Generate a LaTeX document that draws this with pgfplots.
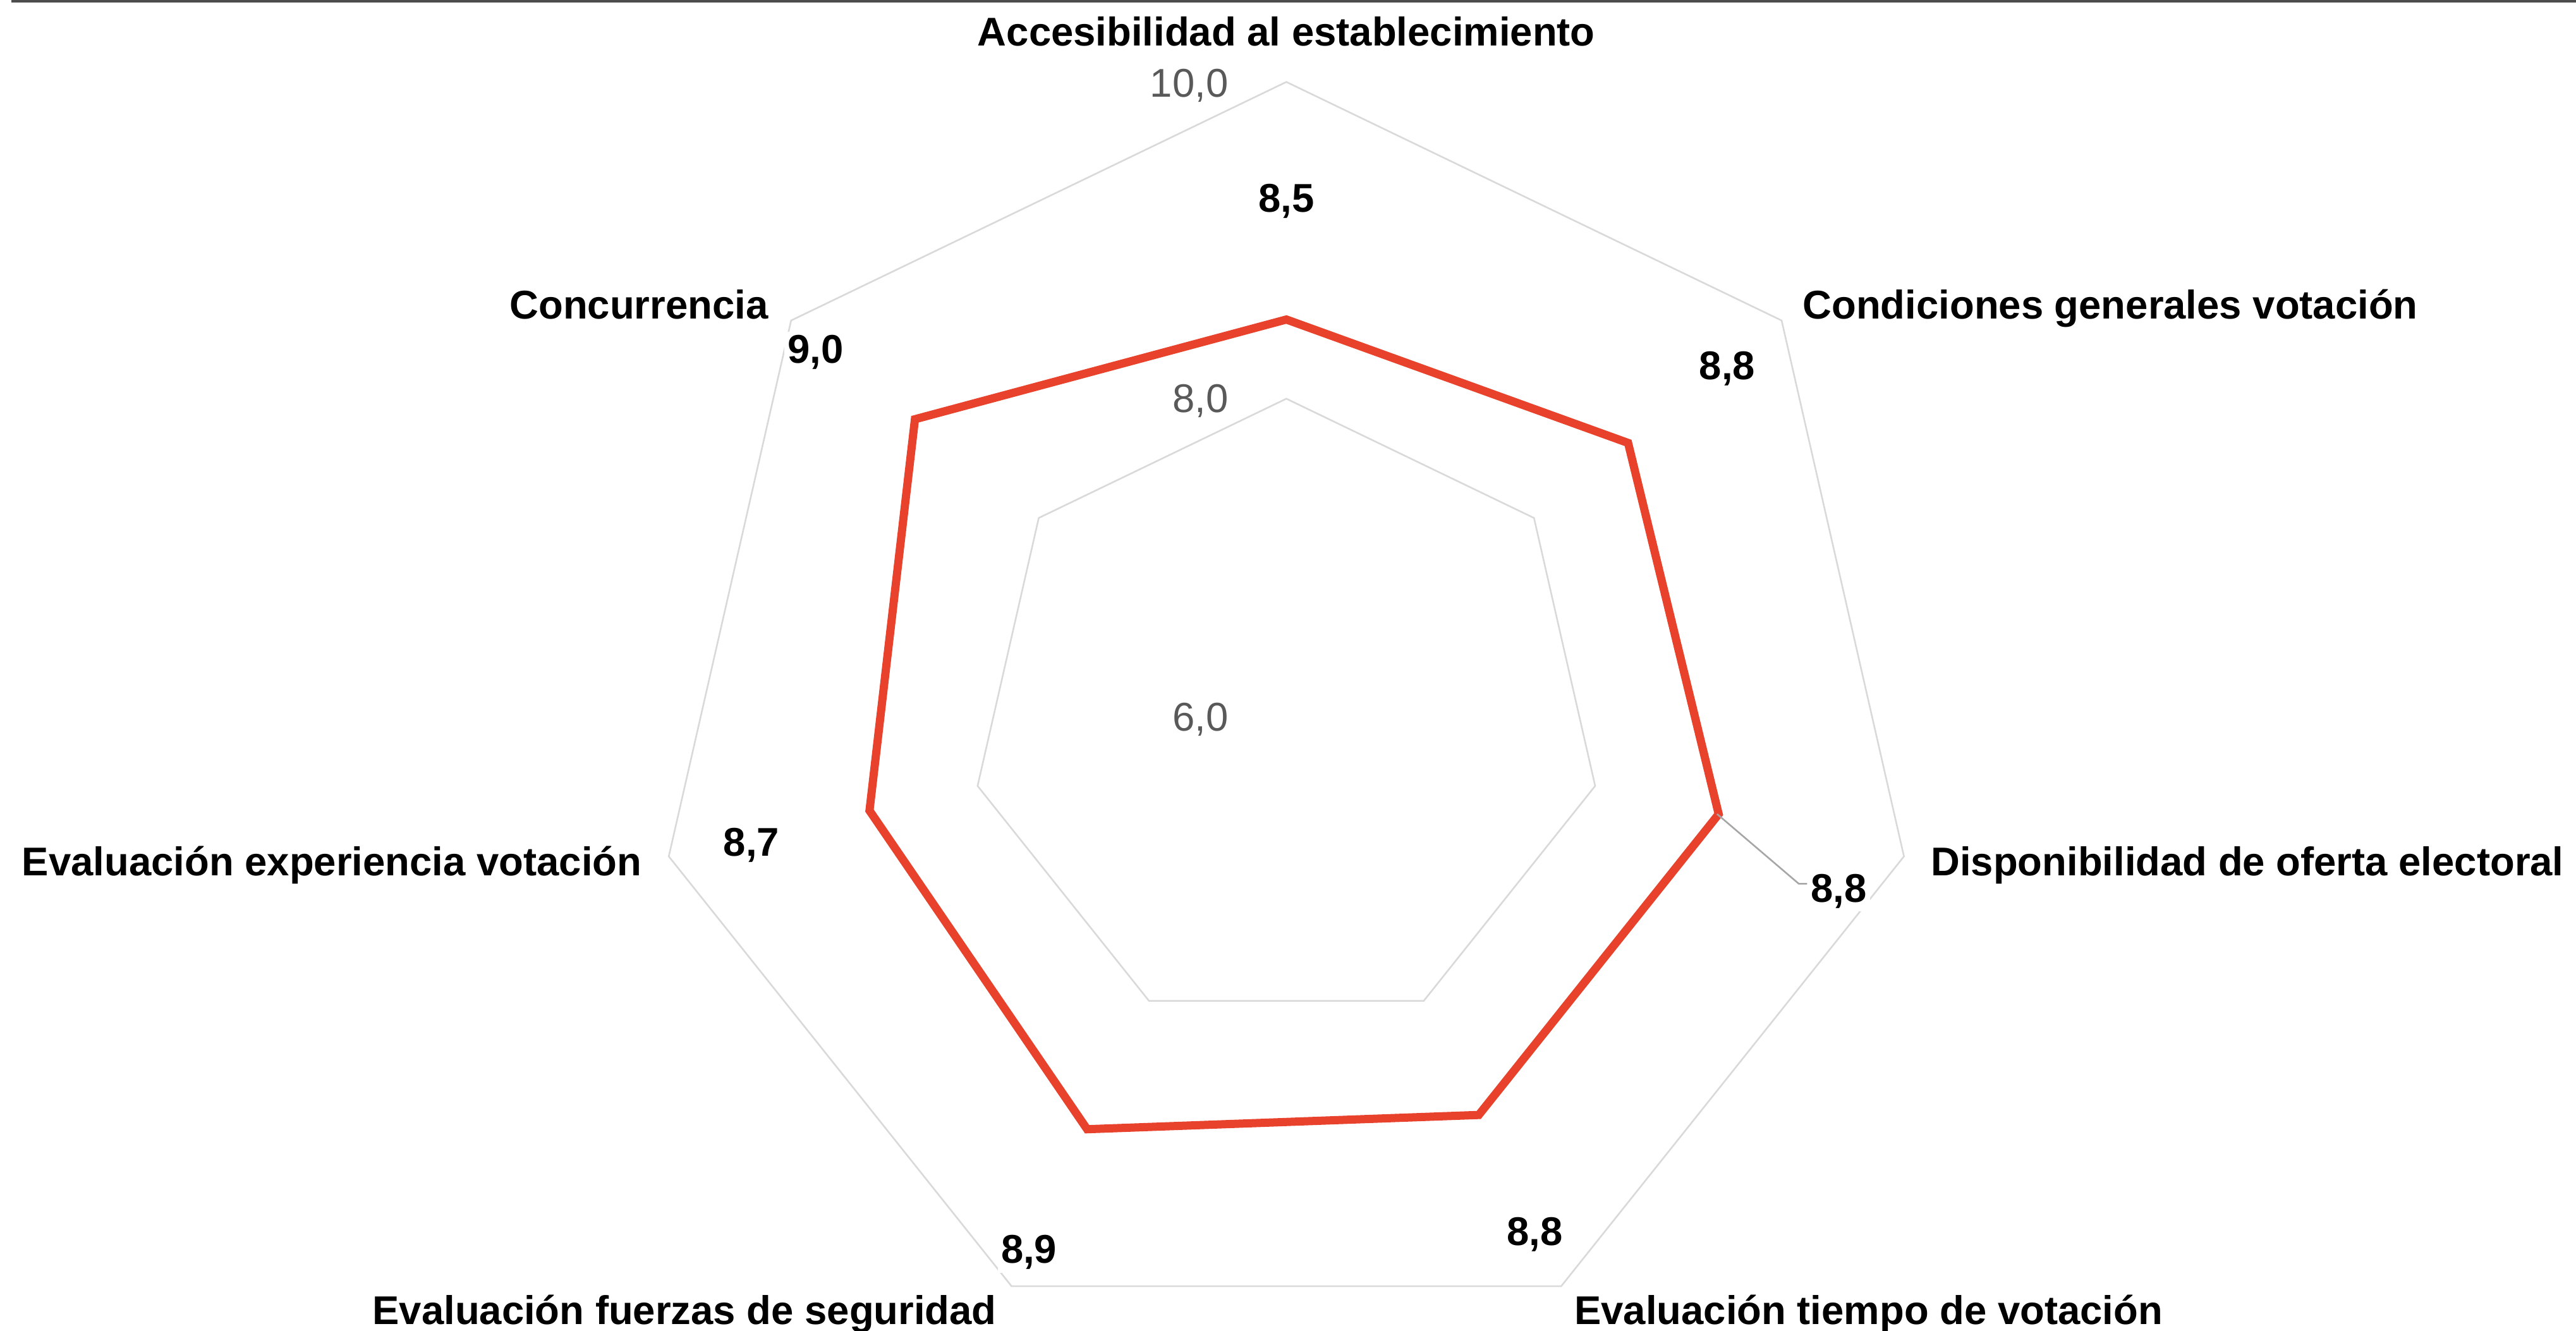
\documentclass[border=0pt]{standalone}
\usepackage{fontspec}
\setmainfont{Liberation Sans}
\usepackage{pgfplots}
\usepackage{pgfplotstable}
\pgfplotsset{compat=1.18}
\definecolor{redline}{HTML}{E8412C}
\definecolor{ringgray}{HTML}{D9D9D9}
\definecolor{valgray}{HTML}{595959}
\definecolor{leadgray}{HTML}{A6A6A6}
\definecolor{topgray}{HTML}{4D4D4D}
% angle (deg) and score of each of the 7 radar axes, clockwise from the top
\pgfplotstableread{
a v
90 8.5
38.5714 8.76
-12.8571 8.8
-64.2857 8.8
-115.7143 8.9
-167.1429 8.7
141.4286 9.0
}\scores
\begin{document}
\begin{tikzpicture}
\begin{axis}[hide axis, x=48.2bp, y=48.2bp,
  xmin=-8.1224, xmax=8.1432, ymin=-3.8849, ymax=4.5176, clip=false]
\addplot[ringgray, line width=0.5bp] table[x expr={4*cos(\thisrow{a})}, y expr={4*sin(\thisrow{a})}] {\scores} -- cycle;
\addplot[ringgray, line width=0.5bp] table[x expr={2*cos(\thisrow{a})}, y expr={2*sin(\thisrow{a})}] {\scores} -- cycle;
\addplot[redline, line width=2.5bp, line join=miter] table[x expr={(\thisrow{v}-6)*cos(\thisrow{a})}, y expr={(\thisrow{v}-6)*sin(\thisrow{a})}] {\scores} -- cycle;
\end{axis}
\begin{scope}[x=0.5bp, y=-0.5bp, shift={(current axis.north west)}]
\tikzset{
  cat/.style={font=\fontsize{12.25}{14}\selectfont\bfseries, inner sep=0pt},
  val/.style={font=\fontsize{12.25}{14}\selectfont\bfseries, inner sep=1bp, fill=white},
  gr/.style={font=\fontsize{12.25}{14}\selectfont, text=valgray, inner sep=0pt}}
\draw[topgray, line width=0.7bp] (7,0.7) -- (1568,0.7);
\draw[leadgray, line width=0.5bp] (1045.2,495.5) -- (1095,538) -- (1100,538);
\node[cat, anchor=base] at (783,28) {Accesibilidad al establecimiento};
\node[cat, anchor=base west] at (1097,194) {Condiciones generales votación};
\node[cat, anchor=base east] at (468,194) {Concurrencia};
\node[cat, anchor=base west] at (1175,533) {Disponibilidad de oferta electoral};
\node[cat, anchor=base east] at (391,533) {Evaluación experiencia votación};
\node[cat, anchor=base west] at (958,806) {Evaluación tiempo de votación};
\node[cat, anchor=base east] at (607,806) {Evaluación fuerzas de seguridad};
\node[val, anchor=base] at (783,129) {8,5};
\node[val, anchor=base west] at (1032,231) {8,8};
\node[val, anchor=base west] at (477,221) {9,0};
\node[val, anchor=base west] at (1100,549) {8,8};
\node[val, anchor=base west] at (915,758) {8,8};
\node[val, anchor=base west] at (607,769) {8,9};
\node[val, anchor=base west] at (438,521) {8,7};
\node[gr, anchor=base east] at (748,59) {10,0};
\node[gr, anchor=base east] at (748,251) {8,0};
\node[gr, anchor=base east] at (748,445) {6,0};
\end{scope}
\pgfresetboundingbox
\path[use as bounding box] (current axis.south west) rectangle (current axis.north east);
\end{tikzpicture}
\end{document}
